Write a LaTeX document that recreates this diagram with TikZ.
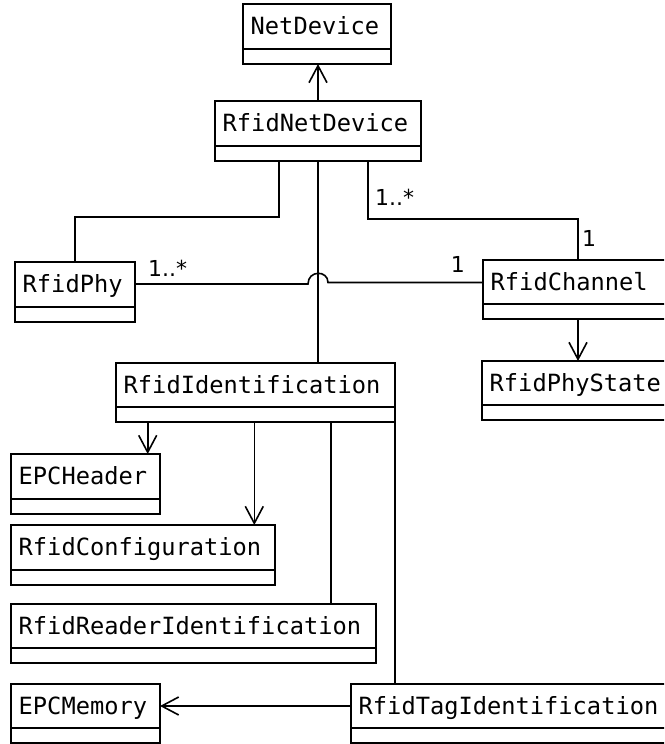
\documentclass[tikz,border=0pt]{standalone}
\usepackage{fontspec}
\setmainfont{DejaVu Sans}
\newfontfamily\umlmono{DejaVu Sans Mono}
\usetikzlibrary{arrows.meta,calc}

% UML class box: name, left, top, width, height, class name
\newcommand{\drawclass}[6]{%
  \node[classbox, minimum width=#4pt, minimum height=#5pt, anchor=north west] (#1) at (#2,#3) {};
  \draw[classline] ([yshift=15pt]#1.south west) -- ([yshift=15pt]#1.south east);
  \node[classname] (#1-name) at ([xshift=7.5pt,yshift=-30pt]#1.north west) {#6};
}

\begin{document}
\begin{tikzpicture}[x=1pt,y=-1pt,
  classbox/.style={draw, line width=1.6pt, inner sep=0pt, outer sep=0pt},
  classline/.style={line width=1.6pt},
  classname/.style={anchor=base west, inner sep=0pt, font=\umlmono\fontsize{23.7pt}{28pt}\selectfont},
  mult/.style={inner sep=0pt, font=\fontsize{22pt}{26pt}\selectfont},
  link/.style={line width=1.6pt},
  navarrow/.style={link, -{Straight Barb[length=17pt,width=18pt]}}]

\useasboundingbox (0,0) rectangle (664,744);
\clip (0,0) rectangle (664,744);

% classes
\drawclass{nd}{243}{4}{148}{60}{NetDevice}
\drawclass{rnd}{215}{101}{206}{60}{RfidNetDevice}
\drawclass{phy}{15}{262}{120}{60}{RfidPhy}
\drawclass{chan}{483}{260}{190}{59}{RfidChannel}
\drawclass{rid}{116}{363}{279}{59}{RfidIdentification}
\drawclass{pst}{482}{361}{190}{59}{RfidPhyState}
\drawclass{eh}{11}{454}{149}{60}{EPCHeader}
\drawclass{rc}{11}{525}{264}{60}{RfidConfiguration}
\drawclass{rri}{11}{604}{365}{59}{RfidReaderIdentification}
\drawclass{em}{11}{684}{149}{59}{EPCMemory}
\drawclass{rti}{351}{684}{330}{59}{RfidTagIdentification}

% generalisation-style link to NetDevice
\draw[navarrow] (rnd.north) -- (rnd.north |- nd.south);

% RfidNetDevice -- RfidPhy
\coordinate (physrc) at ([xshift=-39pt]rnd.south);
\draw[link] (physrc) -- ++(0,56) -| (phy.north);

% RfidNetDevice -- RfidIdentification
\draw[link] (rnd.south) -- (rnd.south |- rid.north);

% RfidNetDevice -- RfidChannel
\coordinate (chsrc) at ([xshift=50pt]rnd.south);
\draw[link] (chsrc) -- ++(0,58) -| (chan.north);
\node[mult, anchor=base west] (m1) at ([xshift=7pt,yshift=-44pt]chsrc) {1..*};
\node[mult, anchor=base west] (m2) at ([xshift=4pt,yshift=14pt]chan.north) {1};

% RfidPhy -- RfidChannel, hopping over the vertical link
\coordinate (physide) at ([yshift=-22pt]phy.north east);
\coordinate (hopc) at (physide -| rnd.south);
\coordinate (hopend) at ([xshift=10pt,yshift=1.5pt]hopc);
\draw[link] (physide) -- ([xshift=-10pt]hopc)
  .. controls ([xshift=-10pt,yshift=14pt]hopc) and ([xshift=10pt,yshift=14pt]hopc) .. (hopend)
  -- (hopend -| chan.west);
\node[mult, anchor=base west] (m3) at ([xshift=13pt,yshift=8pt]physide) {1..*};
\node[mult, anchor=base east] (m4) at ([xshift=-18pt,yshift=12pt]physide -| chan.west) {1};

% RfidChannel -> RfidPhyState
\draw[navarrow] (chan.south) -- (chan.south |- pst.north);

% RfidIdentification links
\coordinate (ehsrc) at ([xshift=31.7pt]rid.south west);
\draw[navarrow] (ehsrc) -- (ehsrc |- eh.north);
\coordinate (rcsrc) at ([xshift=138.3pt]rid.south west);
\draw[navarrow] (rcsrc) -- (rcsrc |- rc.north);
\coordinate (rrisrc) at ([xshift=215pt]rid.south west);
\draw[link] (rrisrc) -- (rrisrc |- rri.north);
\draw[link] (rid.south east) -- (rid.south east |- rti.north);

% RfidTagIdentification -> EPCMemory
\coordinate (tagout) at ([yshift=-22pt]rti.north west);
\draw[navarrow] (tagout) -- (tagout -| em.east);

\end{tikzpicture}
\end{document}
